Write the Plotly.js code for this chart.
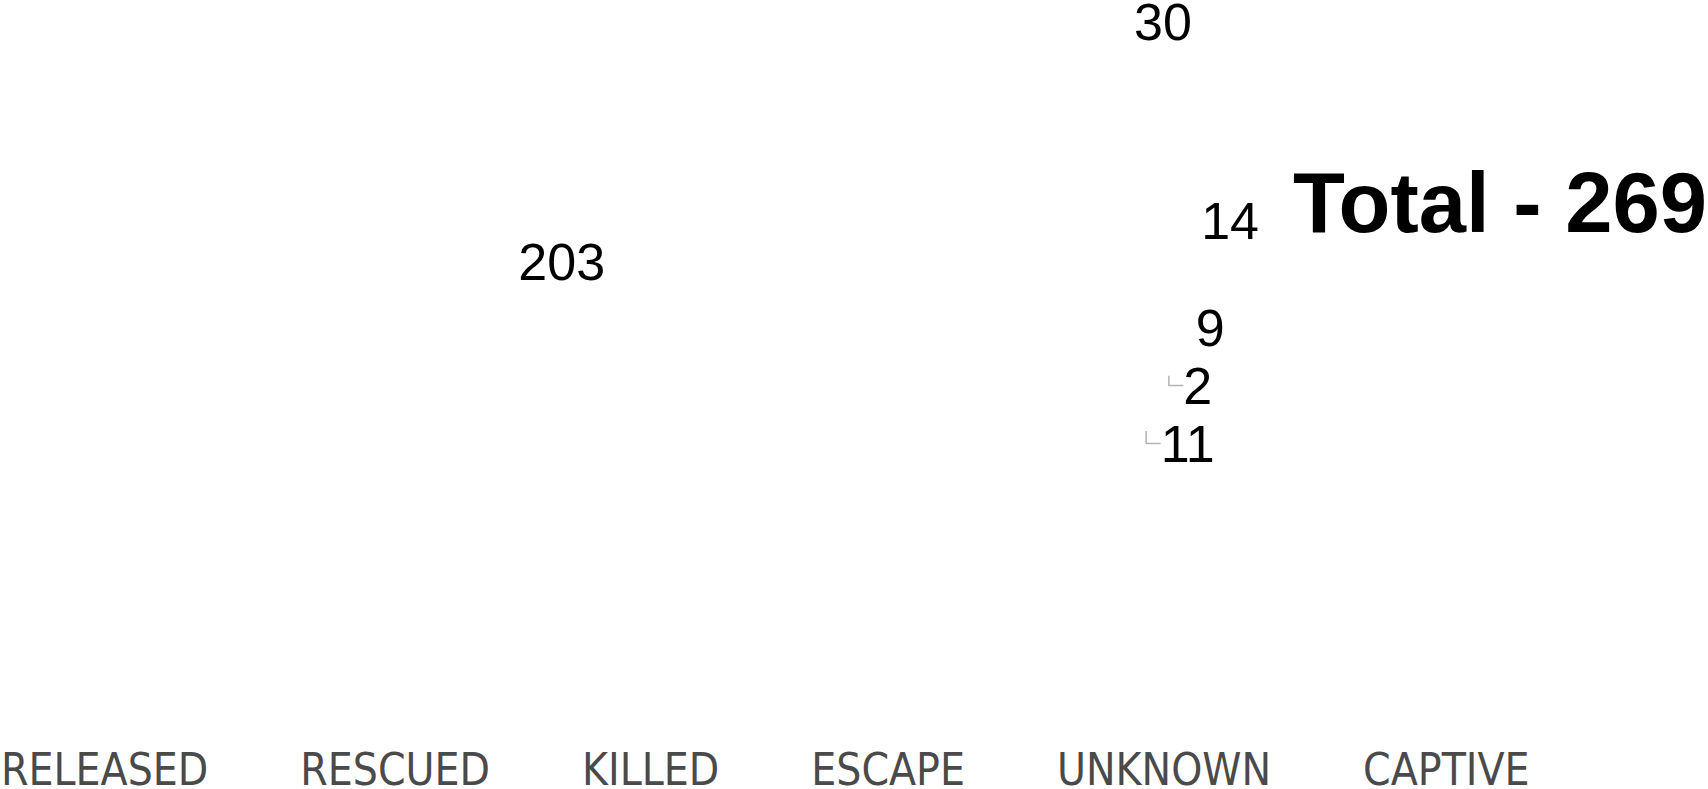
<!DOCTYPE html>
<html>
<head>
<meta charset="utf-8">
<script src="https://cdn.plot.ly/plotly-3.0.1.min.js"></script>
<style>
  html, body { margin: 0; padding: 0; width: 1708px; height: 789px; overflow: hidden; background: #fff; }
  #chart { position: absolute; left: -86px; top: -141px; width: 1794px; height: 950px; }
  #chart .textline { stroke: #b4b4b4 !important; stroke-width: 1.5px !important; }
</style>
</head>
<body>
<div id="chart"></div>
<script>
// Outcome categories (legend labels)
const categories = ['RELEASED', 'RESCUED', 'KILLED', 'ESCAPE', 'UNKNOWN', 'CAPTIVE'];
// Number of people per outcome
const counts = [203, 30, 14, 9, 2, 11];
// Label placement per slice
const labelPositions = ['inside', 'outside', 'outside', 'outside', 'outside', 'outside'];
// Headline text
const totalLabel = 'Total - ' + counts.reduce((a, b) => a + b, 0);

const W = 1794, H = 950;

const trace = {
  type: 'pie',
  labels: categories,
  values: counts,
  sort: false,
  direction: 'clockwise',
  rotation: 124,
  hole: 0.19,
  textinfo: 'value',
  texttemplate: labelPositions.map(p => p === 'inside' ? '%{value}<br>\u00a0' : '%{value}'),
  textposition: labelPositions,
  insidetextorientation: 'horizontal',
  textfont: { family: 'Liberation Sans, Arial, sans-serif', size: 52, color: '#000' },
  marker: { colors: categories.map(() => '#ffffff'), line: { color: '#ffffff', width: 0 } },
  domain: { x: [0.2698, 0.7102], y: [0, 1] },
  hoverinfo: 'none'
};

const layout = {
  width: W,
  height: H,
  margin: { l: 0, r: 0, t: 0, b: 160, autoexpand: false },
  paper_bgcolor: '#ffffff',
  plot_bgcolor: '#ffffff',
  showlegend: true,
  legend: {
    orientation: 'h',
    x: 0,
    xanchor: 'left',
    y: -0.196,
    yanchor: 'bottom',
    itemwidth: 77,
    font: { family: 'Liberation Sans Narrow, DejaVu Sans Condensed, sans-serif', size: 44, color: '#4a4a4a' },
    bgcolor: 'rgba(0,0,0,0)'
  },
  annotations: [{
    text: totalLabel,
    xref: 'paper', yref: 'paper',
    x: 1377 / W, xanchor: 'left',
    y: 0.5656, yanchor: 'middle',
    showarrow: false,
    font: { family: 'Liberation Sans, Arial, sans-serif', size: 85, color: '#000', weight: 'bold' }
  }]
};

Plotly.newPlot('chart', [trace], layout, { displayModeBar: false, staticPlot: true });
</script>
</body>
</html>
